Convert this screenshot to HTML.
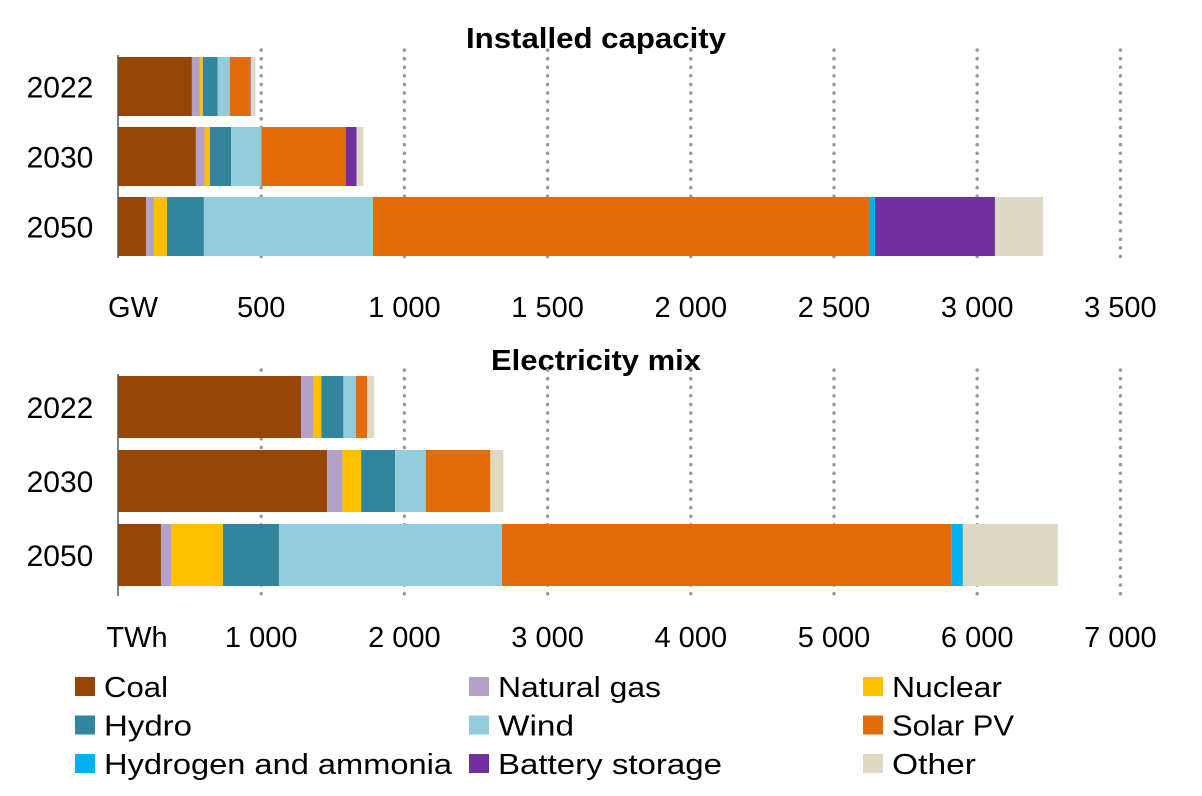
<!DOCTYPE html>
<html><head><meta charset="utf-8"><style>
body{margin:0;background:#fff;}
svg{display:block;font-family:"Liberation Sans",sans-serif;}
</style></head><body>
<svg id="chart" width="1202" height="796"></svg>
<script>
const seriesNames=["Coal","Natural gas","Nuclear","Hydro","Wind","Solar PV","Hydrogen and ammonia","Battery storage","Other"];
const colors=["#964506","#b3a2c8","#ffc000","#31859c","#93cddd","#e36c0a","#00b0f0","#7030a0","#ddd9c3"];
const years=["2022","2030","2050"];
const capacity2022=[258,28,10,52,42,70,0,3,17];
const capacity2030=[272,30,19,74,106,294,0,38,24];
const capacity2050=[98,28,45,129,590,1732,21,419,168];
const mix2022=[1278,84,58,154,87,79,0,0,49];
const mix2030=[1460,107,131,237,214,451,0,0,91];
const mix2050=[300,70,363,391,1557,3142,77,0,663];
const capTicks=[500,1000,1500,2000,2500,3000,3500];
const mixTicks=[1000,2000,3000,4000,5000,6000,7000];
const capTickLabels=["500","1 000","1 500","2 000","2 500","3 000","3 500"];
const mixTickLabels=["1 000","2 000","3 000","4 000","5 000","6 000","7 000"];
const legendWidths=[64,163,110,88,76,122,348,224,84];

const NS="http://www.w3.org/2000/svg";
const svg=document.getElementById('chart');
function mk(tag,attrs,parent){const e=document.createElementNS(NS,tag);for(const k in attrs)e.setAttribute(k,attrs[k]);(parent||svg).appendChild(e);return e;}

function panel(cfg){
  const g=mk('g',{});
  
  
  const x=v=>118+v*cfg.scale;
  const t=mk('text',{x:596,y:cfg.titleY,'text-anchor':'middle','font-size':29,'font-weight':'bold',fill:'#000',textLength:cfg.titleLen,lengthAdjust:'spacingAndGlyphs'},g);
  t.textContent=cfg.title;
  
  
  cfg.ticks.forEach((tv,i)=>{
    const l=mk('line',{x1:x(tv),x2:x(tv),y1:cfg.gridTop,y2:cfg.axisBottom,stroke:'#9a9a9a','stroke-width':3.5,'stroke-dasharray':'0.1 8.5','stroke-linecap':'round'},g);
    
    
    const tl=mk('text',{x:x(tv),y:cfg.labelY,'text-anchor':'middle','font-size':29,fill:'#000'},g);
    tl.textContent=cfg.tickLabels[i];
    
    
  });
  const u=mk('text',{x:cfg.unitX,y:cfg.labelY,'text-anchor':'middle','font-size':29,fill:'#000'},g);
  u.textContent=cfg.unit;
  
  
  cfg.rows.forEach((vals,r)=>{
    const y0=cfg.barTops[r];
    let acc=0;
    vals.forEach((v,s)=>{
      if(v<=0)return;
      const b=mk('rect',{x:x(acc),y:y0,width:v*cfg.scale,height:cfg.barH,fill:colors[s]},g);
      
      
      acc+=v;
    });
    const yl=mk('text',{x:60,y:y0+cfg.barH/2+11,'text-anchor':'middle','font-size':30,fill:'#000'},g);
    yl.textContent=years[r];
    
    
  });
  const ax=mk('line',{x1:118,x2:118,y1:cfg.barTops[0]-2,y2:cfg.axisBottom,stroke:'#595959','stroke-width':1.5},g);
  
  
}
panel({name:'installed-capacity-panel',title:'Installed capacity',titleLen:260,titleY:48,scale:143.2/500,ticks:capTicks,tickLabels:capTickLabels,unit:'GW',unitX:133,gridTop:50,axisBottom:258,labelY:317,barTops:[57,127,197],barH:59,rows:[capacity2022,capacity2030,capacity2050]});
panel({name:'electricity-mix-panel',title:'Electricity mix',titleLen:210,titleY:370,scale:143.2/1000,ticks:mixTicks,tickLabels:mixTickLabels,unit:'TWh',unitX:137,gridTop:370,axisBottom:596,labelY:647,barTops:[376,450,524],barH:62,rows:[mix2022,mix2030,mix2050]});

const lg=mk('g',{});


seriesNames.forEach((n,i)=>{
  const col=i%3,row=Math.floor(i/3);
  const lx=75+col*394,ly=677+row*38.5;
  const e=mk('g',{},lg);
  
  
  mk('rect',{x:lx,y:ly,width:20,height:19,fill:colors[i]},e);
  const tx=mk('text',{x:lx+29,y:ly+20,'font-size':29,fill:'#000',textLength:legendWidths[i],lengthAdjust:'spacingAndGlyphs'},e);
  tx.textContent=n;
});
</script>
</body></html>
